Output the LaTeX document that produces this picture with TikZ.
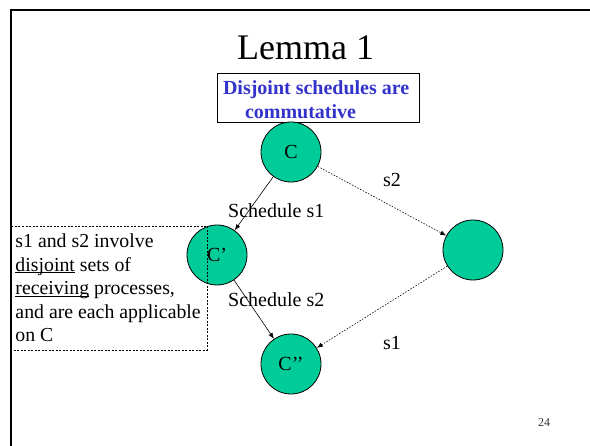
\documentclass[tikz,border=0pt]{standalone}
\usepackage{fontspec}
\setmainfont{Liberation Serif}
\usetikzlibrary{arrows.meta}

\definecolor{confgreen}{RGB}{0,204,153}
\definecolor{claimblue}{RGB}{51,51,204}

\tikzset{
  config/.style={circle, draw=black, line width=0.8pt, fill=confgreen, minimum size=60pt, inner sep=0pt, font=\fontsize{20}{23.5}\selectfont},
  sched/.style={line width=0.6pt, -{Latex[length=6pt,width=4.5pt]}},
  swap/.style={sched, dash pattern=on 1.5pt off 1.5pt},
  lbl/.style={font=\fontsize{20}{23.5}\selectfont, inner sep=0pt, anchor=base west},
}

\begin{document}
\begin{tikzpicture}[x=1pt, y=-1pt]
\useasboundingbox (0,0) rectangle (590,446);

% slide frame
\draw[line width=2.5pt] (11,452) -- (11,10) -- (596,10);

\node[font=\fontsize{36}{40}\selectfont, inner sep=0pt, anchor=base] (title) at (305.5,60) {Lemma 1};

\node[draw, line width=0.8pt, text=claimblue, font=\bfseries\fontsize{20}{23.5}\selectfont,
      align=flush left, text width=190pt, inner xsep=6pt, inner ysep=0pt,
      minimum width=202pt, minimum height=49pt] (claim) at (318,97.5)
  {\rule{0pt}{18.5pt}Disjoint schedules are\\\hspace*{22pt}commutative};

% configurations
\node[config] (C) at (291,152) {C};
\node[config] (C1) at (217,255) {C'};
\node[config] (D) at (473,250) {};
\node[config] (C2) at (291,364) {C’’};

\node[draw, dash pattern=on 2pt off 1.5pt, line width=0.7pt, font=\fontsize{19.8}{23.5}\selectfont,
      align=flush left, text width=186pt, inner xsep=5.5pt, inner ysep=0pt,
      minimum width=197pt, minimum height=124pt] (note) at (108.5,288)
  {s1 and s2 involve\\
   \underline{\smash{disjoint}} sets of\\
   \underline{\smash{receiving}} processes,\\
   and are each applicable\\
   on C};

\draw[sched] (C) -- (C1);
\draw[sched] (C1) -- (C2);
\draw[swap] (C) -- (D);
\draw[swap] (D) -- (C2);

\node[lbl] (s1a) at (228,218) {Schedule s1};
\node[lbl] (s2a) at (228,306.5) {Schedule s2};
\node[lbl] (s2b) at (383,186.5) {s2};
\node[lbl] (s1b) at (383,350) {s1};

\node[font=\fontsize{12}{14}\selectfont, text=black!80, inner sep=0pt, anchor=base west] (page) at (538,427) {24};
\end{tikzpicture}
\end{document}
